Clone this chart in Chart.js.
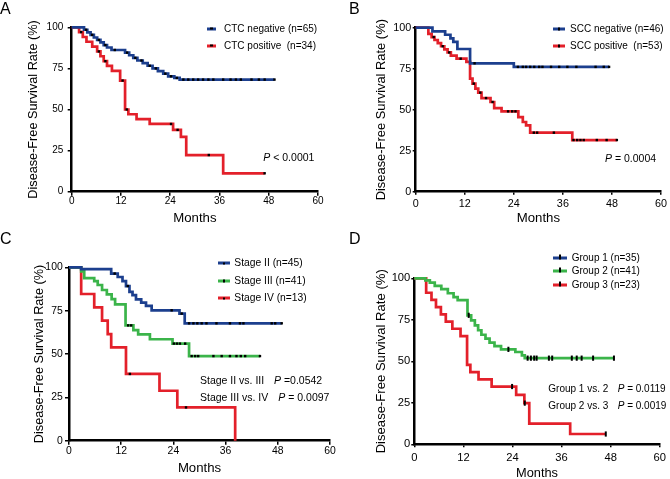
<!DOCTYPE html>
<html>
<head>
<meta charset="utf-8">
<script src="https://cdn.jsdelivr.net/npm/chart.js@4.4.0/dist/chart.umd.min.js"></script>
<style>
  html, body { margin: 0; padding: 0; background: #fff; }
  body { position: relative; width: 670px; height: 479px; overflow: hidden;
         font-family: 'Liberation Sans', Arial, Helvetica, sans-serif; color: #000; }
  canvas { position: absolute; }
  .txt { position: absolute; white-space: pre; line-height: 1; transform: translateY(-50%); }
  .letter { position: absolute; font-size: 16px; line-height: 1; }
  .swatch { position: absolute; height: 3px; transform: translateY(-50%); }
  .swatch span { position: absolute; left: 50%; top: 50%; background: #000; }
</style>
</head>
<body>
<script>
// shared axes
const monthTicks = [0, 12, 24, 36, 48, 60];
const rateTicks = [0, 25, 50, 75, 100];

// A - CTC status
const ctcNegLabel = 'CTC negative (n=65)';
const ctcNegTime = [0, 3.0, 3.8, 4.6, 5.4, 6.2, 7.0, 7.8, 8.6, 9.7, 13.0, 14.0, 15.0, 16.0, 17.3, 18.5, 19.7, 21.0, 22.3, 23.5, 25.0, 26.3, 49.4];
const ctcNegRate = [100, 98.5, 96.9, 95.4, 93.8, 92.3, 90.8, 89.2, 87.7, 86.2, 84.6, 83.0, 81.4, 79.8, 78.2, 76.6, 75.0, 73.4, 71.8, 70.2, 69.2, 68.2, 68.2];
const ctcNegCensor = [3.5, 5.0, 6.6, 8.2, 10.5, 13.5, 15.5, 17.0, 19.0, 20.5, 22.8, 24.2, 25.6, 27.2, 28.4, 29.6, 30.8, 32.0, 33.3, 34.5, 36.9, 38.7, 40.0, 41.2, 43.8, 45.6, 47.0, 49.4];

const ctcPosLabel = 'CTC positive  (n=34)';
const ctcPosTime = [0, 1.8, 2.7, 3.6, 5.0, 6.2, 7.0, 7.8, 8.6, 9.8, 11.8, 13.0, 13.8, 15.8, 19.0, 24.7, 26.6, 27.9, 36.9, 47.0];
const ctcPosRate = [100, 97.1, 94.1, 91.2, 88.2, 85.3, 82.4, 79.4, 76.5, 73.5, 67.6, 50.0, 47.1, 44.1, 41.2, 37.6, 33.4, 22.3, 11.2, 11.2];
const ctcPosCensor = [2.3, 6.6, 8.2, 12.4, 13.4, 24.2, 25.8, 33.4, 47.0];

// B - SCC status
const sccNegLabel = 'SCC negative (n=46)';
const sccNegTime = [0, 4.1, 7.2, 8.5, 9.2, 10.2, 13.3, 24.0, 47.3];
const sccNegRate = [100, 97.8, 95.7, 93.5, 91.3, 87.0, 78.3, 76.1, 76.1];
const sccNegCensor = [14.4, 25.0, 26.2, 27.0, 28.0, 29.0, 30.2, 31.0, 33.1, 35.1, 37.1, 39.3, 44.0, 46.0, 47.3];

const sccPosLabel = 'SCC positive  (n=53)';
const sccPosTime = [0, 3.1, 3.9, 4.6, 5.4, 6.2, 7.0, 7.8, 8.6, 10.0, 12.4, 13.3, 13.9, 14.6, 15.3, 16.1, 18.3, 19.2, 21.0, 25.1, 26.2, 27.0, 28.0, 38.3, 49.2];
const sccPosRate = [100, 96.2, 94.3, 92.5, 90.6, 88.7, 86.8, 84.9, 83.0, 81.1, 79.2, 68.9, 65.9, 62.8, 60.4, 57.1, 54.7, 51.0, 49.0, 45.5, 42.5, 40.4, 36.0, 31.5, 31.5];
const sccPosCensor = [4.4, 6.6, 8.2, 11.0, 14.2, 15.8, 17.2, 18.8, 22.6, 23.6, 24.4, 28.9, 29.7, 33.8, 38.6, 39.5, 40.3, 41.1, 44.3, 46.7, 49.2];

// C - stage
const stage2Label = 'Stage II (n=45)';
const stage2Time = [0, 2.8, 9.7, 11.2, 12.3, 13.1, 13.9, 14.6, 15.4, 16.6, 17.7, 19.0, 25.4, 26.6, 48.9];
const stage2Rate = [100, 98.9, 96.4, 94.4, 92.0, 89.2, 85.8, 83.9, 81.5, 79.6, 77.7, 75.2, 73.3, 67.7, 67.7];
const stage2Censor = [10.5, 13.5, 23.6, 25.9, 27.6, 28.6, 29.5, 30.5, 31.6, 33.9, 37.0, 39.3, 40.1, 46.6, 47.4, 48.9];

const stage3Label = 'Stage III (n=41)';
const stage3Time = [0, 2.8, 3.5, 5.8, 6.6, 7.6, 8.7, 9.8, 10.6, 13.0, 14.8, 15.9, 18.6, 23.8, 27.6, 43.9];
const stage3Rate = [100, 97.6, 93.7, 92.0, 89.8, 86.9, 84.4, 81.7, 78.6, 66.5, 63.8, 61.3, 58.5, 56.0, 48.8, 48.8];
const stage3Censor = [13.6, 14.3, 24.1, 24.8, 25.5, 26.7, 28.2, 29.0, 29.7, 33.2, 35.1, 37.0, 38.5, 39.5, 40.5, 43.9];

const stage4Label = 'Stage IV (n=13)';
const stage4Time = [0, 2.8, 5.8, 7.6, 8.9, 9.7, 13.1, 20.8, 24.9, 38.2];
const stage4Rate = [100, 84.6, 76.9, 69.2, 61.5, 53.8, 38.5, 28.8, 19.2, 0];
const stage4Censor = [14.0, 26.9];

// D - groups (group 1 only appears in the legend)
const group1Label = 'Group 1 (n=35)';
const group2Label = 'Group 2 (n=41)';
const group2Time = [0, 2.7, 3.8, 5.0, 6.6, 8.2, 9.6, 10.6, 13.0, 13.9, 14.8, 15.6, 16.4, 17.4, 18.4, 19.6, 21.2, 24.7, 26.3, 27.0, 48.8];
const group2Rate = [100, 98.8, 97.4, 95.4, 93.5, 91.0, 88.7, 86.8, 77.7, 74.7, 71.7, 68.7, 66.0, 63.6, 61.2, 59.2, 57.2, 55.6, 53.6, 51.9, 51.9];
const group2Censor = [13.3, 23.0, 27.7, 28.5, 29.3, 29.9, 32.9, 33.7, 38.5, 39.7, 40.9, 43.7, 48.8];

const group3Label = 'Group 3 (n=23)';
const group3Time = [0, 2.9, 4.2, 5.3, 6.5, 7.7, 9.3, 11.3, 12.9, 13.7, 15.7, 18.9, 24.9, 26.9, 28.1, 38.1, 46.8];
const group3Rate = [100, 91.3, 87.0, 82.6, 78.3, 73.9, 69.6, 65.2, 47.8, 43.5, 39.1, 34.8, 29.8, 24.8, 12.4, 6.2, 6.2];
const group3Censor = [23.9, 27.0, 46.8];

const BLUE = '#1c3f8e', RED = '#e3202a', GREEN = '#3bb44a';
const FONT = "'Liberation Sans', Arial, Helvetica, sans-serif";

// survival value of a step curve at time t
function stepAt(times, rates, t) {
  let v = rates[0];
  for (let i = 0; i < times.length; i++) if (times[i] <= t) v = rates[i];
  return v;
}

const panels = [
  { letter: 'A', letterPos: [0, 1.2],
    box: [0, 0, 335, 235], area: [71.7, 27.3, 318, 191.7],
    yTitleX: 33, xTitleY: 218, tickFont: 10, yTick: [4, 4.4], xTick: [4, 0], yTitleFont: 12.7, xTitleFont: 13.2,
    series: [
      { label: ctcNegLabel, color: BLUE, t: ctcNegTime, r: ctcNegRate, c: ctcNegCensor },
      { label: ctcPosLabel, color: RED, t: ctcPosTime, r: ctcPosRate, c: ctcPosCensor }
    ],
    legend: { rows: [28.5, 45.5], sx: 207, sw: 9, tx: 224, font: 10 },
    notes: [{ x: 263.3, y: 156.7, text: '', px: 263.3, p: ' < 0.0001', font: 10.5 }] },
  { letter: 'B', letterPos: [349, 1.2],
    box: [335, 0, 335, 235], area: [415.7, 27.7, 663, 191.7],
    yTitleX: 381.7, xTitleY: 218.3, tickFont: 10.8, yTick: [3, 1.5], xTick: [3, 3], yTitleFont: 12.9, xTitleFont: 13.2,
    series: [
      { label: sccNegLabel, color: BLUE, t: sccNegTime, r: sccNegRate, c: sccNegCensor },
      { label: sccPosLabel, color: RED, t: sccPosTime, r: sccPosRate, c: sccPosCensor }
    ],
    legend: { rows: [28.7, 45.7], sx: 553, sw: 12, tx: 570, font: 10 },
    notes: [{ x: 605, y: 158.3, text: '', px: 605, p: ' = 0.0004', font: 10.5 }] },
  { letter: 'C', letterPos: [0, 231],
    box: [0, 235, 340, 250], area: [69, 267.3, 330, 440.7],
    yTitleX: 39.3, xTitleY: 468.3, tickFont: 10.4, yTick: [4, 2.3], xTick: [4, 0], yTitleFont: 12.7, xTitleFont: 13.2,
    series: [
      { label: stage2Label, color: BLUE, t: stage2Time, r: stage2Rate, c: stage2Censor },
      { label: stage3Label, color: GREEN, t: stage3Time, r: stage3Rate, c: stage3Censor },
      { label: stage4Label, color: RED, t: stage4Time, r: stage4Rate, c: stage4Censor }
    ],
    legend: { rows: [263.3, 280.7, 298.3], sx: 218, sw: 12, tx: 234.3, font: 10.3 },
    notes: [
      { x: 200, y: 380, text: 'Stage II vs. III', px: 274, p: ' =0.0542', font: 10.5 },
      { x: 200, y: 397.3, text: 'Stage III vs. IV', px: 278.3, p: ' = 0.0097', font: 10.5 }
    ] },
  { letter: 'D', letterPos: [349, 231],
    box: [335, 235, 335, 250], area: [414.3, 278.3, 665, 444.3],
    yTitleX: 381.7, xTitleY: 473.3, tickFont: 11.2, yTick: [3, 1], xTick: [3, 4], yTitleFont: 13.1, xTitleFont: 12.8,
    marks: 'line',
    series: [
      { label: group2Label, color: GREEN, t: group2Time, r: group2Rate, c: group2Censor },
      { label: group3Label, color: RED, t: group3Time, r: group3Rate, c: group3Censor }
    ],
    legendItems: [[group1Label, BLUE], [group2Label, GREEN], [group3Label, RED]],
    legend: { rows: [257.7, 271, 285], sx: 553, sw: 14, tx: 571.7, font: 10 },
    notes: [
      { x: 548.3, y: 389, text: 'Group 1 vs. 2', px: 617.7, p: ' = 0.0119', font: 10 },
      { x: 548.3, y: 405.7, text: 'Group 2 vs. 3', px: 617.7, p: ' = 0.0019', font: 10 }
    ] }
];

function addText(x, y, html, size, cls) {
  const d = document.createElement('div');
  d.className = cls || 'txt';
  d.style.left = x + 'px';
  d.style.top = y + 'px';
  d.style.fontSize = size + 'px';
  d.innerHTML = html;
  document.body.appendChild(d);
  return d;
}

function drawPanel(p) {
  const [bx, by, bw, bh] = p.box;
  const [al, at, ar, ab] = p.area;
  const cv = document.createElement('canvas');
  cv.width = bw; cv.height = bh;
  cv.style.left = bx + 'px'; cv.style.top = by + 'px';
  document.body.appendChild(cv);

  const lineMarks = p.marks === 'line';
  const datasets = [];
  // censor ticks first so they sit on top of the curves
  p.series.forEach(s => datasets.push({
    data: s.c.map(t => ({ x: t, y: stepAt(s.t, s.r, t) })),
    showLine: false,
    pointStyle: lineMarks ? 'line' : 'rect',
    pointRotation: lineMarks ? 90 : 0,
    pointRadius: lineMarks ? 2.6 : 1.7,
    pointBackgroundColor: '#000', pointBorderColor: '#000',
    pointBorderWidth: lineMarks ? 2 : 0,
    clip: false
  }));
  p.series.forEach(s => datasets.push({
    data: s.t.map((t, i) => ({ x: t, y: s.r[i] })),
    stepped: 'before',
    borderColor: s.color, borderWidth: 2.7,
    pointRadius: 0, fill: false, clip: false
  }));

  const yWidth = al - bx, xHeight = by + bh - ab;
  const grid = len => ({ drawOnChartArea: false, drawTicks: true, tickLength: len, color: '#000', lineWidth: 1.5 });

  new Chart(cv, {
    type: 'line',
    data: { datasets },
    options: {
      responsive: false, animation: false, devicePixelRatio: 1,
      layout: { padding: { left: 0, top: at - by, right: bx + bw - ar, bottom: 0 } },
      plugins: { legend: { display: false }, tooltip: { enabled: false } },
      scales: {
        x: {
          type: 'linear', min: 0, max: 60,
          afterBuildTicks: s => { s.ticks = monthTicks.map(v => ({ value: v })); },
          afterFit: s => { s.height = xHeight; },
          grid: grid(p.xTick[0]),
          border: { display: true, color: '#000', width: 2.5 },
          ticks: { color: '#000', padding: p.xTick[1], maxRotation: 0, autoSkip: false,
                   font: { family: FONT, size: p.tickFont } },
          title: { display: true, text: 'Months', color: '#000',
                   font: { family: FONT, size: p.xTitleFont },
                   padding: { top: 0, bottom: (by + bh - p.xTitleY) - p.xTitleFont * 0.6 } }
        },
        y: {
          type: 'linear', min: 0, max: 100,
          afterBuildTicks: s => { s.ticks = rateTicks.map(v => ({ value: v })); },
          afterFit: s => { s.width = yWidth; },
          grid: grid(p.yTick[0]),
          border: { display: true, color: '#000', width: 2.5 },
          ticks: { color: '#000', padding: p.yTick[1], font: { family: FONT, size: p.tickFont } },
          title: { display: true, text: 'Disease-Free Survival Rate (%)', color: '#000',
                   font: { family: FONT, size: p.yTitleFont },
                   padding: { top: (p.yTitleX - bx) - p.yTitleFont * 0.6, bottom: 0 } }
        }
      }
    }
  });

  // panel letter
  addText(p.letterPos[0], p.letterPos[1], p.letter, 16, 'letter');

  // legend
  const items = p.legendItems || p.series.map(s => [s.label, s.color]);
  items.forEach(([label, color], i) => {
    const y = p.legend.rows[i];
    const sw = document.createElement('div');
    sw.className = 'swatch';
    sw.style.left = p.legend.sx + 'px';
    sw.style.top = y + 'px';
    sw.style.width = p.legend.sw + 'px';
    sw.style.background = color;
    const m = document.createElement('span');
    if (lineMarks) { m.style.width = '2px'; m.style.height = '5px'; m.style.marginLeft = '-1px'; m.style.marginTop = '-3.5px'; }
    else { m.style.width = '2.5px'; m.style.height = '2.5px'; m.style.marginLeft = '-1.2px'; m.style.marginTop = '-1.2px'; }
    sw.appendChild(m);
    document.body.appendChild(sw);
    addText(p.legend.tx, y, label, p.legend.font);
  });

  // p-values
  p.notes.forEach(n => {
    if (n.text) addText(n.x, n.y, n.text, n.font);
    addText(n.px, n.y, '<i>P</i>' + n.p, n.font);
  });
}

panels.forEach(drawPanel);
</script>
</body>
</html>
